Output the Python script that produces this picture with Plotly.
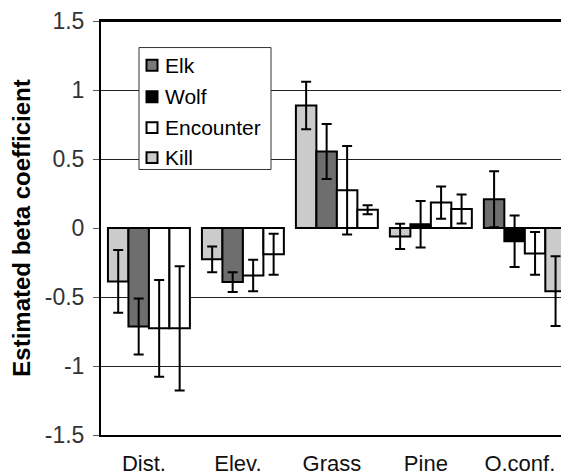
import plotly.graph_objects as go

categories = ["Dist.", "Elev.", "Grass", "Pine", "O.conf."]

# four bars per category (left to right), values and +/- errors
bar1_values = [-0.387, -0.227, 0.887, -0.061, 0.208]
bar1_errors = [0.227, 0.093, 0.172, 0.092, 0.203]
bar2_values = [-0.713, -0.392, 0.554, 0.027, -0.096]
bar2_errors = [0.203, 0.072, 0.199, 0.168, 0.187]
bar3_values = [-0.727, -0.344, 0.273, 0.184, -0.184]
bar3_errors = [0.350, 0.114, 0.321, 0.117, 0.155]
bar4_values = [-0.727, -0.190, 0.132, 0.137, -0.458]
bar4_errors = [0.450, 0.149, 0.033, 0.105, 0.253]

legend_names = ["Elk", "Wolf", "Encounter", "Kill"]
y_ticks = [-1.5, -1, -0.5, 0, 0.5, 1, 1.5]
y_tick_labels = ["-1.5", "-1", "-0.5", "0", "0.5", "1", "1.5"]

# styles
ELK = "#6e6e6e"
WOLF = "#000000"
ENC = "#ffffff"
KILL = "#cbcbcb"
legend_colors = ["#7a7a7a", WOLF, ENC, KILL]
bar_colors = [
    [KILL, KILL, KILL, KILL, ELK],
    [ELK, ELK, ELK, WOLF, WOLF],
    [ENC, ENC, ENC, ENC, ENC],
    [ENC, ENC, ENC, ENC, KILL],
]
FONT = "Liberation Sans, Arial, sans-serif"

# page body has an 8px margin; figure is sized to fill the rest of the window
W, H = 561, 468
ML, MR, MT, MB = 93, 0, 9, 38
PW, PH = W - ML - MR, H - MT - MB


def px_x(px):  # window pixel -> paper x
    return (px - 8 - ML) / PW


def px_y(py):  # window pixel -> paper y
    return (H - MB - (py - 8)) / PH


fig = go.Figure()
series = [(bar1_values, bar1_errors), (bar2_values, bar2_errors),
          (bar3_values, bar3_errors), (bar4_values, bar4_errors)]
for i, (vals, errs) in enumerate(series):
    fig.add_trace(go.Bar(
        x=categories, y=vals,
        marker=dict(color=bar_colors[i], line=dict(color="#000000", width=2)),
        error_y=dict(type="data", array=errs, visible=True, color="#000000",
                     thickness=2, width=5),
        showlegend=False, hoverinfo="skip",
    ))

# top frame line
shapes = [dict(type="line", xref="paper", yref="paper",
               x0=0, x1=1, y0=1, y1=1,
               line=dict(color="#000000", width=2), layer="above")]
# legend box drawn by hand so spacing matches
shapes.append(dict(type="rect", xref="paper", yref="paper",
                   x0=px_x(139), x1=px_x(271), y0=px_y(168), y1=px_y(44),
                   line=dict(color="#333333", width=1), fillcolor="white",
                   layer="above"))
annotations = []
row_y = [62, 94, 125.5, 156]
for name, col, yy in zip(legend_names, legend_colors, row_y):
    shapes.append(dict(type="rect", xref="paper", yref="paper",
                       x0=px_x(146.5), x1=px_x(157.5),
                       y0=px_y(yy + 5.5), y1=px_y(yy - 5.5),
                       line=dict(color="#000000", width=2), fillcolor=col,
                       layer="above"))
    annotations.append(dict(text=name, xref="paper", yref="paper",
                            x=px_x(163), y=px_y(yy), xanchor="left",
                            yanchor="middle", showarrow=False,
                            font=dict(family=FONT, size=21, color="#000000")))

fig.update_layout(
    width=W, height=H,
    margin=dict(l=ML, r=MR, t=MT, b=MB),
    paper_bgcolor="white", plot_bgcolor="white",
    barmode="group", bargap=0.128, bargroupgap=0,
    font=dict(family=FONT, size=20, color="#111111"),
    showlegend=False,
    shapes=shapes, annotations=annotations,
    xaxis=dict(
        type="category", range=[-0.51, 4.47],
        showline=True, linecolor="#000000", linewidth=2, mirror=True,
        ticks="", showgrid=False, tickfont=dict(size=22, color="#111111"),
        ticklabelstandoff=8, ticklabelshift=-5, ticklabeloverflow="allow",
    ),
    yaxis=dict(
        range=[-1.5, 1.5], tickvals=y_ticks, ticktext=y_tick_labels,
        showline=True, linecolor="#000000", linewidth=2,
        ticks="outside", ticklen=6, tickcolor="#555555", tickwidth=1,
        showgrid=True, gridcolor="#222222", gridwidth=1,
        zeroline=True, zerolinecolor="white", zerolinewidth=1,
        tickfont=dict(size=23, color="#333333"),
        ticklabelstandoff=4, ticklabeloverflow="allow",
        title=dict(text="<b>Estimated beta coefficient</b>",
                   font=dict(size=24, color="#000000"), standoff=8),
    ),
)

fig.write_html("out.html")
